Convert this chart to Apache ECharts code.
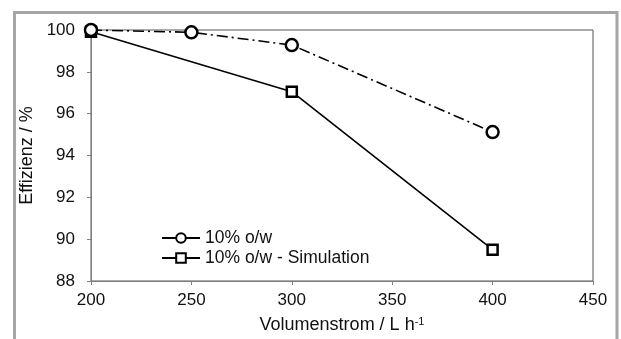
<!DOCTYPE html>
<html><head><meta charset="utf-8">
<script src="https://cdn.jsdelivr.net/npm/echarts@6/dist/echarts.min.js"></script>
<style>html,body{margin:0;padding:0;background:#fff}#c{width:621px;height:339px}</style>
</head><body><div id="c"></div>
<script>
const xValues = [200, 250, 300, 400];
const messung = [100, 99.89, 99.28, 95.12];
const simX = [200, 300, 400];
const simulation = [99.92, 97.05, 89.5];
const seriesNames = ['10% o/w', '10% o/w - Simulation'];
const xTicks = [200, 250, 300, 350, 400, 450];
const yTicks = [88, 90, 92, 94, 96, 98, 100];

const chart = echarts.init(document.getElementById('c'), null, {renderer: 'canvas'});
const font = "'Liberation Sans', Arial, sans-serif";
chart.setOption({
  animation: false,
  backgroundColor: '#fff',
  graphic: [{
    type: 'rect', silent: true, z: 100,
    shape: {x: 14.5, y: 12.5, width: 602.5, height: 400},
    style: {fill: 'none', stroke: '#a6a6a6', lineWidth: 3}
  }],
  grid: {left: 91, right: 28, top: 30, bottom: 57, show: true, borderColor: '#555', borderWidth: 1},
  legend: {
    orient: 'vertical', left: 156, top: 224,
    itemWidth: 38, itemHeight: 12, itemGap: 2,
    textStyle: {fontFamily: font, fontSize: 17.5, color: '#111'},
    lineStyle: {type: 'solid'},
    data: seriesNames
  },
  xAxis: {
    type: 'value', min: xTicks[0], max: xTicks[xTicks.length - 1], interval: 50,
    axisLine: {lineStyle: {color: '#808080', width: 1}},
    axisTick: {show: true, length: 4, inside: false, lineStyle: {color: '#808080'}},
    axisLabel: {fontFamily: font, fontSize: 17, color: '#111', margin: 11},
    splitLine: {show: false},
    name: '{a|Volumenstrom / L h}{s|-1}',
    nameLocation: 'middle', nameGap: 35,
    nameTextStyle: {
      rich: {
        a: {fontFamily: font, fontSize: 18, color: '#111'},
        s: {fontFamily: font, fontSize: 11, color: '#111', verticalAlign: 'top', padding: [0,0,7,0]}
      }
    }
  },
  yAxis: {
    type: 'value', min: yTicks[0], max: yTicks[yTicks.length - 1], interval: 2,
    axisLine: {show: true, lineStyle: {color: '#808080', width: 1}},
    axisTick: {show: true, length: 4, inside: false, lineStyle: {color: '#808080'}},
    axisLabel: {fontFamily: font, fontSize: 17, color: '#111', margin: 16},
    splitLine: {show: false},
    name: 'Effizienz / %', nameLocation: 'middle', nameGap: 50,
    nameTextStyle: {fontFamily: font, fontSize: 18, color: '#111'}
  },
  series: [
    {
      name: seriesNames[0], type: 'line',
      data: xValues.map((x, i) => [x, messung[i]]),
      symbol: 'circle', symbolSize: 12,
      itemStyle: {color: '#fff', borderColor: '#000', borderWidth: 2.5},
      lineStyle: {color: '#000', width: 1.6, type: [11, 4, 2, 4]},
      z: 3
    },
    {
      name: seriesNames[1], type: 'line',
      data: simX.map((x, i) => [x, simulation[i]]),
      symbol: 'rect', symbolSize: 10,
      itemStyle: {color: '#fff', borderColor: '#000', borderWidth: 2.5},
      lineStyle: {color: '#000', width: 1.6, type: 'solid'},
      z: 2
    }
  ]
});
</script></body></html>
